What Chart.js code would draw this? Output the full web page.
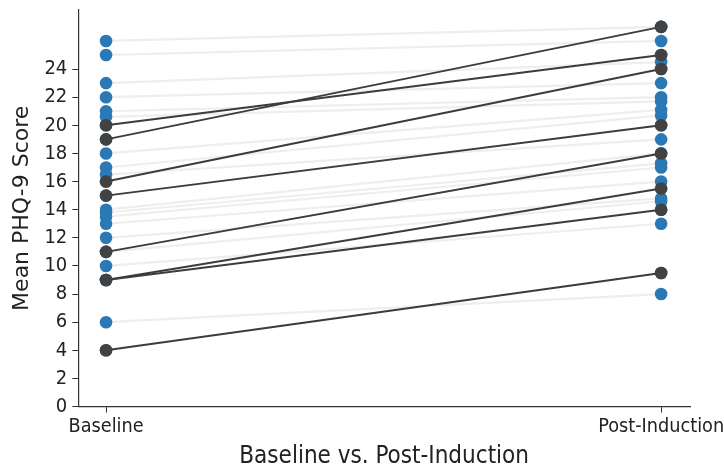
<!DOCTYPE html>
<html lang="en">
<head>
    <meta charset="UTF-8">
    <title>PHQ-9 Baseline vs Post-Induction</title>
    <script src="https://cdn.jsdelivr.net/npm/chart.js"></script>
    <style>
        body{margin:0;background:#fff}
        #wrap{width:724px;height:468px}
    </style>
</head>
<body>
<div id="wrap"><canvas id="phqChart" width="724" height="468"></canvas></div>
<script>
    // categories on the x axis (0 = Baseline, 1 = Post-Induction)
    const categories=["Baseline","Post-Induction"]
    const yTickValues=[0,2,4,6,8,10,12,14,16,18,20,22,24]

    // all other participants (grey lines, blue dots)
    const lightBaseline=[26,25,23,22,21,20.6,18,17,16.5,14,13.8,13.5,13,12,11,10,6]
    const lightPost=[27,26,24.5,23,22,21.7,21.1,20.7,19,18,17.3,17,16,14.8,14.6,13,8]

    // highlighted participants (dark lines)
    const darkBaseline=[19,20,16,15,11,9,9,4]
    const darkPost=[27,25,24,20,18,15.5,14,9.5]

    const fontFam="'DejaVu Sans Condensed','DejaVu Sans',sans-serif"
    const blue="#2a78b4"
    const darkLine="#3c3c3c"
    const darkDot="#424242"

    const datasets=[]
    // dark lines drawn on top
    for(let i=0;i<darkBaseline.length;i++){
        datasets.push({
            data:[{x:0,y:darkBaseline[i]},{x:1,y:darkPost[i]}],
            borderColor:darkLine,
            borderWidth:2,
            pointRadius:6.3,
            pointBorderWidth:0,
            pointBackgroundColor:darkDot,
            order:0
        })
    }
    // blue points for everybody
    const allPoints=[]
    lightBaseline.concat(darkBaseline).forEach(v=>allPoints.push({x:0,y:v}))
    lightPost.concat(darkPost).forEach(v=>allPoints.push({x:1,y:v}))
    datasets.push({
        data:allPoints,
        showLine:false,
        pointRadius:6.3,
        pointBorderWidth:0,
        pointBackgroundColor:blue,
        order:1
    })
    // grey lines
    for(let i=0;i<lightBaseline.length;i++){
        datasets.push({
            data:[{x:0,y:lightBaseline[i]},{x:1,y:lightPost[i]}],
            borderColor:"rgba(190,190,190,0.26)",
            borderWidth:2.2,
            pointRadius:0,
            order:2
        })
    }

    // drop the label overflow padding so the plot box matches the reference
    function noPad(scale){
        scale.paddingLeft=0
        scale.paddingRight=0
        scale.paddingTop=0
        scale.paddingBottom=0
    }

    const ctx=document.getElementById("phqChart").getContext("2d")
    new Chart(ctx,{
        type:"scatter",
        data:{datasets:datasets},
        options:{
            responsive:false,
            animation:false,
            layout:{padding:{left:9,right:34,top:10,bottom:-7}},
            plugins:{legend:{display:false},tooltip:{enabled:false}},
            elements:{line:{tension:0}},
            datasets:{scatter:{showLine:true}},
            scales:{
                x:{
                    type:"linear",
                    min:-0.05,
                    max:1.052,
                    afterBuildTicks:scale=>{scale.ticks=[{value:0},{value:1}]},
                    afterFit:noPad,
                    ticks:{
                        callback:v=>categories[v],
                        color:"#222",
                        padding:3,
                        font:{family:fontFam,size:19.7}
                    },
                    grid:{display:true,drawOnChartArea:false,drawTicks:true,tickLength:6,color:"#333"},
                    border:{display:true,color:"#333",width:1.2},
                    title:{
                        display:true,
                        text:"Baseline vs. Post-Induction",
                        color:"#222",
                        padding:{top:0,bottom:4},
                        font:{family:fontFam,size:24}
                    }
                },
                y:{
                    min:0,
                    max:28.2,
                    afterBuildTicks:scale=>{scale.ticks=yTickValues.map(v=>({value:v}))},
                    afterFit:noPad,
                    ticks:{
                        color:"#222",
                        padding:5,
                        font:{family:fontFam,size:20}
                    },
                    grid:{display:true,drawOnChartArea:false,drawTicks:true,tickLength:6,color:"#333"},
                    border:{display:true,color:"#333",width:1.2},
                    title:{
                        display:true,
                        text:"Mean PHQ-9 Score",
                        color:"#222",
                        padding:{top:0,bottom:4},
                        font:{family:"'DejaVu Sans',sans-serif",size:22}
                    }
                }
            }
        }
    })
</script>
</body>
</html>
